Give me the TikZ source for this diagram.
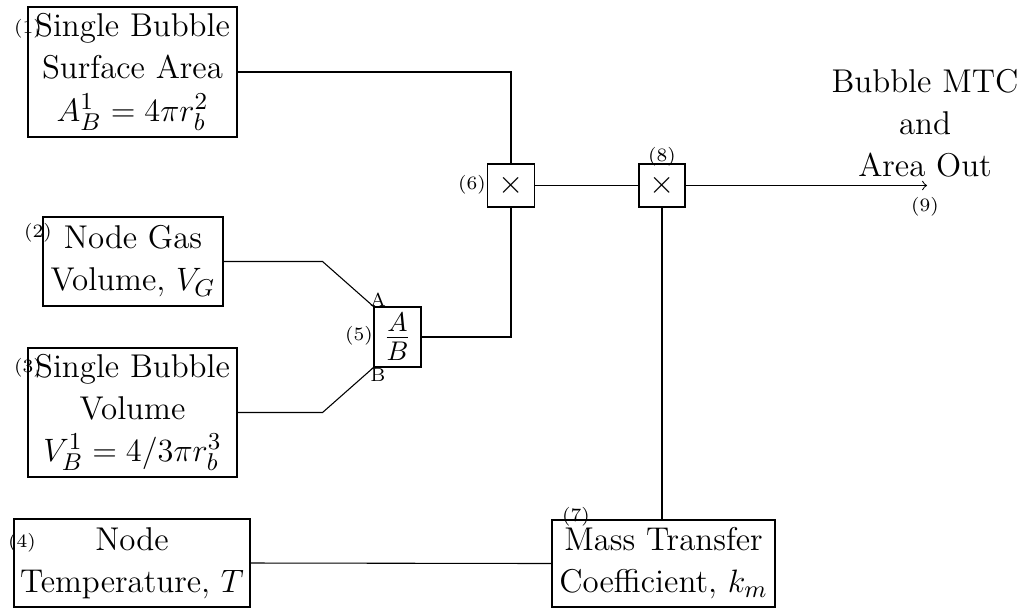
\documentclass[tikz,border=0pt]{standalone}
\begin{document}
\begin{tikzpicture}[x=0.37037pt,y=-0.37037pt,
  blk/.style={draw,align=center,font=\fontsize{12.2}{15.6}\selectfont,inner sep=0pt},
  num/.style={font=\scriptsize,inner sep=0pt}]
\useasboundingbox (0,0) rectangle (1020,608);
\def\px{0.37037pt}
% blocks
\node[blk,minimum width={209*\px},minimum height={130*\px}] (b1) at (132.5,72) {Single Bubble\\Surface Area\\$A_B^1=4\pi r_b^2$};
\node[blk,minimum width={180*\px},minimum height={89*\px}] (b2) at (133,261.5) {Node Gas\\Volume, $V_G$};
\node[blk,minimum width={209*\px},minimum height={129*\px}] (b3) at (132.5,412.5) {Single Bubble\\Volume\\$V_B^1=4/3\pi r_b^3$};
\node[blk,minimum width={236*\px},minimum height={88*\px}] (b4) at (132,563) {Node\\Temperature, $T$};
\node[blk,minimum width={223*\px},minimum height={87*\px}] (b7) at (663.5,563.5) {Mass Transfer\\Coefficient, $k_m$};
\node[blk,minimum width={47*\px},minimum height={60*\px},font=\fontsize{14.5}{17}\selectfont] (b5) at (397.5,337) {$\frac{A}{B}$};
\node[blk,minimum width={47*\px},minimum height={43*\px}] (b6) at (511,185.5) {$\times$};
\node[blk,minimum width={46*\px},minimum height={43*\px}] (b8) at (662,185.5) {$\times$};
\node[align=center,font=\fontsize{12.2}{15.6}\selectfont,inner sep=0pt] (out) at (925,123) {Bubble MTC\\and\\Area Out};
\coordinate (end) at (927,185.5);
% labels
\node[num] (l1) at (28,29) {(1)};
\node[num] (l2) at (38,233) {(2)};
\node[num] (l3) at (28,368) {(3)};
\node[num] (l4) at (22,543) {(4)};
\node[num] (l5) at (359,336) {(5)};
\node[num] (l6) at (472,185) {(6)};
\node[num] (l7) at (576,517) {(7)};
\node[num] (l8) at (662,157) {(8)};
\node[num] (l9) at (925,207) {(9)};
\node[num] (la) at (378,300) {A};
\node[num] (lb) at (378,375) {B};
% connectors
\draw (b1.east) -| (b6.north);
\draw (b6.south) |- (b5.east);
\draw (b2.east) -- ++(99,0) -- (b5.north west);
\draw (b3.east) -- ++(85,0) -- (b5.south west);
\draw (b6.east) -- (b8.west);
\draw (b8.south) -- (b7.north -| b8.south);
\draw (b4.east) -- (b7.west);
\draw[->] (b8.east) -- (end);
\end{tikzpicture}
\end{document}
